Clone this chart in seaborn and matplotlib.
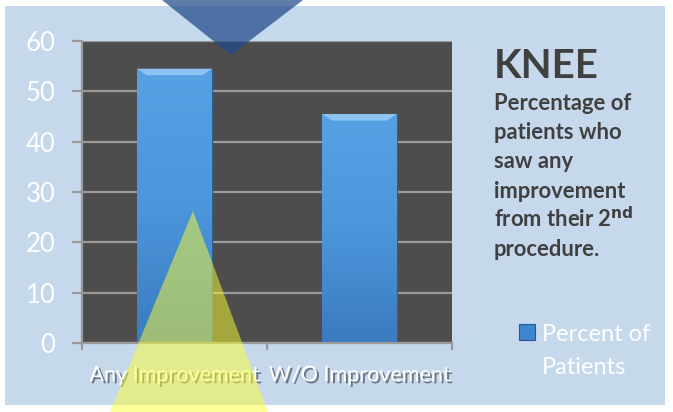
import numpy as np
import pandas as pd
import matplotlib.pyplot as plt
import matplotlib.patheffects as pe
from matplotlib.colors import LinearSegmentedColormap
from matplotlib.patches import Rectangle, Polygon
import seaborn as sns

outcomes = ['Any Improvement', 'W/O Improvement']
percent = [54.5, 45.5]
series_name = 'Percent of\nPatients'
y_ticks = [0, 10, 20, 30, 40, 50, 60]

df = pd.DataFrame({'Outcome': outcomes, 'Percent': percent, 'Series': series_name})

sns.set_theme(style='white')
plt.rcParams['font.family'] = ['Lato', 'DejaVu Sans']

W, H = 673, 412
fig = plt.figure(figsize=(W / 100, H / 100), dpi=100, facecolor='white')


def fx(x):
    return x / W


def fy(y):
    return 1 - y / H


# light blue slide background
fig.patches.append(Rectangle((fx(5), fy(405)), fx(660), 399 / H, transform=fig.transFigure,
                             facecolor='#c5d8ec', edgecolor='none', zorder=-5))

ax = fig.add_axes([fx(82), fy(343), fx(370), 302 / H])
ax.set_zorder(1)
ax.set_facecolor('#4d4d4d')

bar_color = '#4b94da'
sns.barplot(data=df, x='Outcome', y='Percent', hue='Series', palette=[bar_color],
            saturation=1, width=0.405, edgecolor='#2d5f94', linewidth=0.8, ax=ax, zorder=3)

ax.set_ylim(0, 60)
ax.set_yticks(y_ticks)
ax.set_xlim(-0.5, 1.5)
ax.set_xticks([-0.5, 0.5, 1.5], minor=False)
ax.set_xticklabels([])
ax.yaxis.grid(True, color='#9a9a9a', linewidth=1.6, zorder=1)
ax.set_axisbelow(True)

# gradient fill + bevel on top of each bar
grad = LinearSegmentedColormap.from_list('bar', ['#3b7bbf', '#4c96dc', '#56a0e4'])
for bar in list(ax.patches):
    x0, y0 = bar.get_x(), bar.get_y()
    w, h = bar.get_width(), bar.get_height()
    im = ax.imshow(np.linspace(0, 1, 100).reshape(-1, 1), cmap=grad, origin='lower',
                   extent=[x0, x0 + w, y0, y0 + h], aspect='auto', zorder=3.5)
    im.set_clip_path(bar)
    bev = 1.3
    dx = bev * w / 10
    ax.add_patch(Polygon([(x0, y0 + h), (x0 + w, y0 + h), (x0 + w - dx, y0 + h - bev),
                          (x0 + dx, y0 + h - bev)], closed=True, facecolor='#8cc3f0',
                         edgecolor='none', zorder=3.6))
ax.set_xlim(-0.5, 1.5)
ax.set_ylim(0, 60)

for s in ['top', 'right']:
    ax.spines[s].set_visible(False)
for s in ['left', 'bottom']:
    ax.spines[s].set_color('#9a9a9a')
    ax.spines[s].set_linewidth(1.6)
    ax.spines[s].set_zorder(4)
ax.tick_params(axis='y', length=7, width=1.6, color='#9a9a9a', pad=12,
               labelsize=18.5, labelcolor='white', left=True)
ax.tick_params(axis='x', length=5, width=1.6, color='#9a9a9a', bottom=True)
ax.set_xlabel('')
ax.set_ylabel('')

shadow = [pe.SimplePatchShadow(offset=(1.5, -1.5), shadow_rgbFace='black', alpha=0.45), pe.Normal()]
for i, name in enumerate(outcomes):
    ax.text(i, -6.4, name, ha='center', va='center', fontsize=15.5, color='white',
            path_effects=shadow, clip_on=False)

# legend
handles, labels = ax.get_legend_handles_labels()
leg = ax.legend(handles, labels, loc='upper left', bbox_to_anchor=(fx(510), fy(315)),
                bbox_transform=fig.transFigure, frameon=False, labelcolor='white',
                fontsize=17, handlelength=0.65, handleheight=0.65, handletextpad=0.3,
                borderaxespad=0)
leg.get_texts()[0].set_linespacing(1.7)
hp = leg.legend_handles[0]
hp.set_facecolor('#3f86d0')
hp.set_edgecolor('#23578f')
hp.set_y(hp.get_y() + 14)

# side text
fig.text(fx(494), fy(78), 'KNEE', fontsize=29, fontweight='bold', color='#404040',
         ha='left', va='baseline')
desc = ['Percentage of', 'patients who', 'saw any', 'improvement',
        r'from their 2$^{\mathbf{nd}}$', 'procedure.']
for k, line in enumerate(desc):
    fig.text(fx(494), fy(110 + k * 29.2), line, fontsize=15.8, fontweight='bold',
             color='#404040', ha='left', va='baseline')

# decorative triangles
fig.patches.append(Polygon([(fx(162), fy(0)), (fx(303), fy(0)), (fx(231), fy(55))],
                           closed=True, transform=fig.transFigure, facecolor='#1f4a8a',
                           alpha=0.72, edgecolor='none', zorder=10))
fig.patches.append(Polygon([(fx(193), fy(211)), (fx(268), fy(412)), (fx(110), fy(412))],
                           closed=True, transform=fig.transFigure, facecolor='#ffff30',
                           alpha=0.5, edgecolor='none', zorder=10))

fig.savefig('out.png', dpi=100, facecolor='white')
